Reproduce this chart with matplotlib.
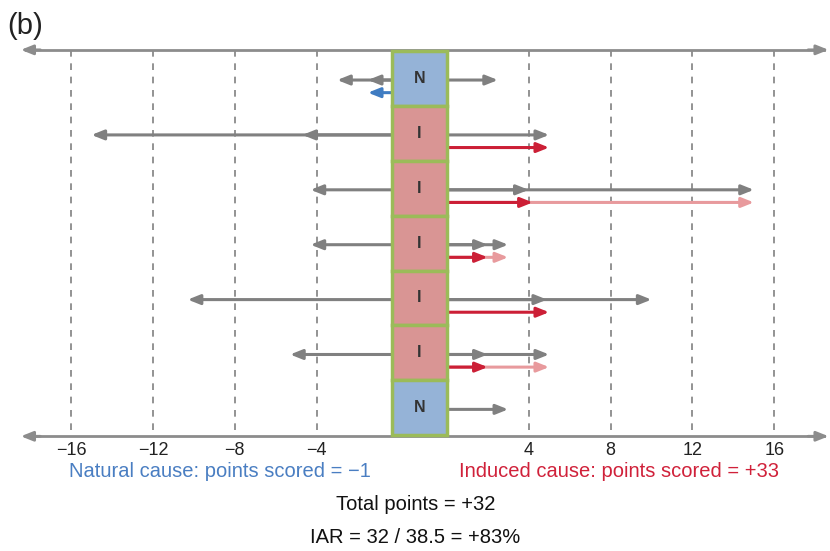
import matplotlib
matplotlib.use('Agg')
import matplotlib.pyplot as plt
from matplotlib.patches import Rectangle

plt.rcParams['font.family'] = ['Liberation Sans', 'DejaVu Sans']

# rows top to bottom: N = natural cause, I = induced cause
row_types = ['N', 'I', 'I', 'I', 'I', 'I', 'N']
# grey arrows going left / right from the box (several per row = stacked heads)
grey_left = [[-3, -1.5], [-15, -4.7], [-4.3], [-4.3], [-10.3], [-5.3], []]
grey_right = [[2.5], [5], [15, 4], [3, 2], [10, 4.9], [5, 2], [3]]
# scored arrow (blue for N, red for I) and its pale extension
score = [-1.5, 5, 4.2, 2, 5, 2, None]
score_ext = [None, None, 15, 3, None, 5, None]

tick_values = [-16, -12, -8, -4, 4, 8, 12, 16]

natural_text = 'Natural cause: points scored = \u22121'
induced_text = 'Induced cause: points scored = +33'
total_text = 'Total points = +32'
iar_text = 'IAR = 32 / 38.5 = +83%'

GAP = 2.35      # width of the box column in axis units (right side origin)
BOX_L = -0.33

grey = '#808080'
red = '#cc1f36'
pink = '#e89a9d'
blue = '#3f7cc2'
colors_box = {'N': '#95b3d7', 'I': '#d99594'}
green = '#9bbb59'


def xpos(v):
    return v + GAP if v > 0 else v


def arrow(ax, x0, x1, y, color, lw=2.2):
    ax.annotate('', xy=(x1, y), xytext=(x0, y),
                arrowprops=dict(arrowstyle='-|>,head_length=0.8,head_width=0.32',
                                color=color, lw=lw, shrinkA=0, shrinkB=0,
                                mutation_scale=9),
                annotation_clip=False)


fig = plt.figure(figsize=(8.3, 5.51), dpi=100)
ax = fig.add_axes([0, 0, 1, 1])
ax.set_xlim(-19.47, 21.07)
ax.set_ylim(8.61, -1.428)
ax.axis('off')

top, bottom = -0.52, 6.52

# dashed grid lines
for t in tick_values:
    ax.plot([xpos(t), xpos(t)], [top, bottom], ls=(0, (4, 4)), color=grey, lw=1.2, zorder=1)

# axis lines with arrows at both ends
for yl in (top, bottom):
    ax.plot([-18.2, 20.8], [yl, yl], color='#8c8c8c', lw=2.0, zorder=2)
    arrow(ax, -17.5, -18.45, yl, '#8c8c8c', lw=2.0)
    arrow(ax, 20.0, 21.0, yl, '#8c8c8c', lw=2.0)

for t in tick_values:
    lab = ('\u2212%d' % -t) if t < 0 else '%d' % t
    ax.text(xpos(t), 6.78, lab, ha='center', va='center', fontsize=13, color='#222222')

# boxes
for i, kind in enumerate(row_types):
    ax.add_patch(Rectangle((BOX_L, i - 0.5), GAP - BOX_L, 1.0, facecolor=colors_box[kind],
                           edgecolor=green, lw=2.5, zorder=5))
    ax.text((BOX_L + GAP) / 2, i, kind, ha='center', va='center', fontsize=11.5,
            fontweight='bold', color='#333333', zorder=6)

# arrows
for i in range(len(row_types)):
    yg = i + 0.03
    yc = i + 0.26
    for v in grey_left[i]:
        arrow(ax, BOX_L, xpos(v), yg, grey)
    for v in grey_right[i]:
        arrow(ax, GAP, xpos(v), yg, grey)
    if score_ext[i] is not None:
        arrow(ax, GAP, xpos(score_ext[i]), yc, pink)
    if score[i] is not None:
        if score[i] < 0:
            arrow(ax, BOX_L, xpos(score[i]), yc, blue)
        else:
            arrow(ax, GAP, xpos(score[i]), yc, red)

# captions
ax.text(-19.1, -0.955, '(b)', ha='left', va='center', fontsize=21, color='#222222')
ax.text(-8.72, 7.17, natural_text, ha='center', va='center', fontsize=14.5, color='#4a7ec2')
ax.text(10.77, 7.17, induced_text, ha='center', va='center', fontsize=14.5, color='#d0213a')
ax.text(0.81, 7.77, total_text, ha='center', va='center', fontsize=14.5, color='#111111')
ax.text(0.81, 8.37, iar_text, ha='center', va='center', fontsize=14.5, color='#111111')

fig.savefig('out.png', dpi=100)
